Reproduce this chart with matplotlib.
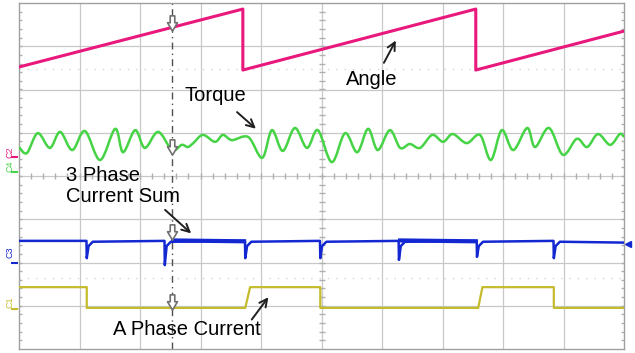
import numpy as np
import matplotlib
matplotlib.use("Agg")
import matplotlib.pyplot as plt
from matplotlib.path import Path
from matplotlib.patches import PathPatch

# screen units: 10 horizontal divisions, 8 vertical divisions
angle_t = [0.0, 3.70, 3.70, 7.55, 7.55, 10.0]
angle_v = [6.52, 7.86, 6.45, 7.86, 6.45, 7.35]

torque_t = [0.00, 0.13, 0.31, 0.51, 0.68, 0.88, 1.09, 1.34, 1.59, 1.72, 1.92, 2.08,
            2.30, 2.53, 2.69, 2.79, 2.88, 3.04, 3.24, 3.37, 3.52, 3.79, 4.02, 4.18,
            4.36, 4.56, 4.76, 4.94, 5.17, 5.39, 5.59, 5.77, 5.93, 6.13, 6.30, 6.46,
            6.63, 6.83, 7.01, 7.17, 7.40, 7.62, 7.80, 7.98, 8.17, 8.40, 8.53, 8.76,
            8.99, 9.22, 9.39, 9.57, 9.77, 9.93, 10.0]
torque_v = [4.67, 4.53, 4.99, 4.65, 5.02, 4.60, 5.04, 4.37, 5.09, 4.55, 5.06, 4.65,
            5.02, 4.60, 4.72, 4.67, 4.76, 4.95, 4.79, 4.95, 4.83, 4.90, 4.42, 5.06,
            4.58, 5.11, 4.65, 5.06, 4.32, 4.99, 4.55, 5.09, 4.60, 5.06, 4.65, 4.74,
            4.65, 4.95, 4.79, 4.97, 4.76, 4.95, 4.37, 5.06, 4.60, 5.11, 4.67, 5.11,
            4.49, 4.86, 4.67, 4.97, 4.72, 4.97, 4.90]

sum_base = 2.50
sum_dip_t = [1.12, 2.41, 3.74, 4.98, 6.28, 7.57, 8.84]
sum_dip_v = [2.10, 1.94, 2.10, 2.10, 2.06, 2.13, 2.10]
sum_noisy = [(2.55, 3.72), (6.30, 7.55)]

phase_t = [0.0, 1.12, 1.12, 3.74, 3.82, 4.98, 4.98, 7.59, 7.66, 8.84, 8.84, 10.0]
phase_v = [1.43, 1.43, 0.95, 0.95, 1.43, 1.43, 0.95, 0.95, 1.43, 1.43, 0.95, 0.95]

cursor_t = 2.53
cursor_marks = [7.53, 4.67, 2.71, 1.09]

PINK = "#e8187c"
GREEN = "#46d446"
BLUE = "#1428d2"
OLIVE = "#c4bc2c"
GRID = "#c8c8c8"

plt.rcParams['font.family'] = ['Liberation Sans', 'DejaVu Sans']


def smooth_path(xs, ys):
    # Catmull-Rom curve through the read points, drawn as cubic Bezier pieces
    p = np.column_stack([xs, ys])
    p = np.vstack([p[0], p, p[-1]])
    verts = [p[1]]
    codes = [Path.MOVETO]
    for i in range(1, len(p) - 2):
        c1 = p[i] + (p[i + 1] - p[i - 1]) / 6
        c2 = p[i + 1] - (p[i + 2] - p[i]) / 6
        verts += [c1, c2, p[i + 1]]
        codes += [Path.CURVE4] * 3
    return Path(verts, codes)


arrow_marker = Path([(-0.3, 1), (0.3, 1), (0.3, 0.1), (0.65, 0.1), (0, -1),
                     (-0.65, 0.1), (-0.3, 0.1), (-0.3, 1)],
                    [Path.MOVETO] + [Path.LINETO] * 6 + [Path.CLOSEPOLY])

fig = plt.figure(figsize=(6.35, 3.53), dpi=100)
ax = fig.add_axes([19 / 635, 4 / 353, 605 / 635, 346 / 353])
ax.set_xlim(0, 10)
ax.set_ylim(0, 8)
ax.set_xticks([])
ax.set_yticks([])
for s in ax.spines.values():
    s.set_color("#a0a0a0")
    s.set_linewidth(1.0)

# graticule
for x in range(1, 10):
    ax.axvline(x, color=GRID, lw=0.9, zorder=0)
for y in range(1, 8):
    ax.axhline(y, color=GRID, lw=0.9, zorder=0)
for y in (6.47, 1.64):
    ax.axhline(y, color="#d4d4d4", lw=1.0, ls=(0, (1, 5)), zorder=0)
minor = np.arange(0.2, 10, 0.2)
ax.plot(minor, np.full_like(minor, 4.0), ls="none", marker="|", ms=4, color="#b0b0b0", zorder=0)
minor_y = np.arange(0.2, 8, 0.2)
ax.plot(np.full_like(minor_y, 5.0), minor_y, ls="none", marker="_", ms=4, color="#b0b0b0", zorder=0)
ax.plot(np.full_like(minor_y, 9.98), minor_y, ls="none", marker="_", ms=3, color="#b0b0b0", zorder=0)
ax.plot(np.full_like(minor_y, 0.02), minor_y, ls="none", marker="_", ms=3, color="#b0b0b0", zorder=0)

# traces
ax.plot(angle_t, angle_v, color=PINK, lw=2.2, solid_joinstyle="round", zorder=3)
ax.add_patch(PathPatch(smooth_path(torque_t, torque_v), fill=False, edgecolor=GREEN,
                       lw=1.8, zorder=3))

st, sv = [0.0], [sum_base]
for t, v in zip(sum_dip_t, sum_dip_v):
    st += [t - 0.005, t, t + 0.03, t + 0.1]
    sv += [sum_base, v, sum_base - 0.12, sum_base - 0.02]
st.append(10.0)
sv.append(sum_base - 0.04)
ax.plot(st, sv, color=BLUE, lw=1.8, zorder=3)
for a, b in sum_noisy:
    ax.plot([a, b], [sum_base + 0.01, sum_base - 0.01], color=BLUE, lw=3.0, zorder=3)

ax.plot(phase_t, phase_v, color=OLIVE, lw=1.6, zorder=3)

# cursor
ax.axvline(cursor_t, color="#505050", lw=1.0, ls=(0, (5, 3, 1, 3)), zorder=2)
ax.plot([cursor_t] * len(cursor_marks), cursor_marks, ls="none", marker=arrow_marker,
        ms=11, mfc="white", mec="#707070", mew=1.2, zorder=5)

# channel markers
for y, lab, c, gnd in [(4.55, "C2", PINK, 4.44), (4.23, "C4", GREEN, 4.09),
                       (2.24, "C3", BLUE, 1.99), (1.09, "C1", OLIVE, 0.92)]:
    ax.text(-0.15, y, lab, fontsize=6.5, color=c, rotation=90, ha="center", va="center",
            clip_on=False)
    ax.plot([-0.12, -0.03], [gnd, gnd], color=c, lw=1.5, clip_on=False)
ax.plot([10.07], [2.43], marker="<", ms=5, color=BLUE, clip_on=False)

# annotations
arrow = dict(arrowstyle="->", color="#202020", lw=1.4, mutation_scale=14)
ax.text(5.40, 6.22, "Angle", fontsize=14.5, ha="left", va="center")
ax.annotate("", xy=(6.25, 7.19), xytext=(6.01, 6.56), arrowprops=arrow)
ax.text(2.74, 5.87, "Torque", fontsize=14.5, ha="left", va="center")
ax.annotate("", xy=(3.95, 5.05), xytext=(3.57, 5.52), arrowprops=arrow)
ax.text(0.77, 3.77, "3 Phase\nCurrent Sum", fontsize=14.5, ha="left", va="center",
        linespacing=1.15)
ax.annotate("", xy=(2.88, 2.63), xytext=(2.38, 3.26), arrowprops=arrow)
ax.text(1.55, 0.44, "A Phase Current", fontsize=14.5, ha="left", va="center")
ax.annotate("", xy=(4.15, 1.25), xytext=(3.82, 0.63), arrowprops=arrow)

fig.savefig("out.png", dpi=100)
